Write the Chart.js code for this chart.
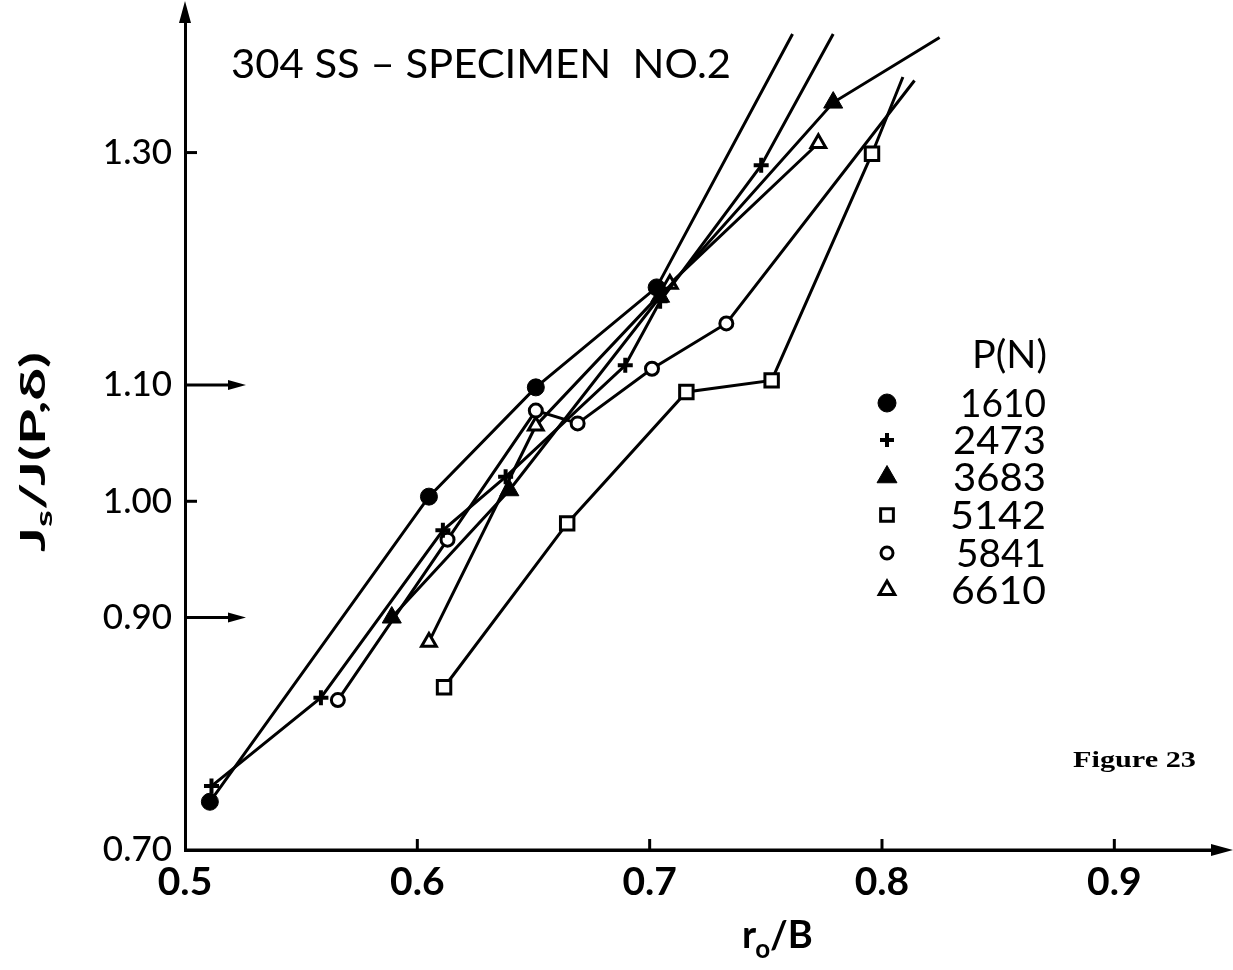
<!DOCTYPE html>
<html><head><meta charset="utf-8">
<script src="https://cdn.jsdelivr.net/npm/chart.js@4.4.1/dist/chart.umd.min.js"></script>
<style>html,body{margin:0;padding:0;background:#fff}#wrap{position:relative;width:1233px;height:970px;background:#fff}</style>
</head><body><div id="wrap"><canvas id="c" width="1233" height="970"></canvas></div>
<script>
// ---- data ----
const xTicks = [0.5, 0.6, 0.7, 0.8, 0.9];
const yTicks = [0.70, 0.90, 1.00, 1.10, 1.30];
const yArrowTicks = [0.90, 1.10];
const loads = ['1610', '2473', '3683', '5142', '5841', '6610'];

const x1610 = [0.5107, 0.605, 0.651, 0.703];
const y1610 = [0.7415, 1.004, 1.098, 1.184];
const ext1610 = [0.7615, 1.402];

const x2473 = [0.5114, 0.5585, 0.611, 0.638, 0.6895, 0.7045, 0.748];
const y2473 = [0.755, 0.831, 0.975, 1.021, 1.117, 1.172, 1.289];
const ext2473 = [0.779, 1.402];

const x3683 = [0.589, 0.6396, 0.7045, 0.779];
const y3683 = [0.900, 1.0095, 1.176, 1.343];
const ext3683 = [0.8248, 1.399];

const x5142 = [0.6115, 0.6645, 0.7158, 0.7525, 0.7957];
const y5142 = [0.840, 0.981, 1.094, 1.104, 1.299];
const ext5142 = [0.809, 1.365];

const x5841 = [0.5658, 0.613, 0.651, 0.669, 0.701, 0.733];
const y5841 = [0.829, 0.967, 1.078, 1.067, 1.114, 1.153];
const ext5841 = [0.814, 1.362];

const x6610 = [0.605, 0.651, 0.7087, 0.7726];
const y6610 = [0.879, 1.065, 1.187, 1.308];
const ext6610 = null;

// ---- styles ----
const markerStyles = [
  {pointStyle: 'circle', radius: 8.5, fill: '#000', bw: 1, lr: 9},
  {pointStyle: 'cross', radius: 7.5, fill: '#000', bw: 4, lr: 7},
  {pointStyle: 'triangle', radius: 11, fill: '#000', bw: 1, lr: 11.5},
  {pointStyle: 'rect', radius: 9.5, fill: '#fff', bw: 3, lr: 9},
  {pointStyle: 'circle', radius: 6.5, fill: '#fff', bw: 3, lr: 6},
  {pointStyle: 'triangle', radius: 8.5, fill: '#fff', bw: 3, lr: 9}
];
const legendWidths = [86, 93, 93, 96, 90, 95];

const seriesX = [x1610, x2473, x3683, x5142, x5841, x6610];
const seriesY = [y1610, y2473, y3683, y5142, y5841, y6610];
const seriesExt = [ext1610, ext2473, ext3683, ext5142, ext5841, ext6610];

const datasets = loads.map((name, i) => {
  const xs = seriesX[i], ys = seriesY[i], ext = seriesExt[i];
  const data = xs.map((x, j) => ({x: x, y: ys[j]}));
  if (ext) data.push({x: ext[0], y: ext[1]});
  const m = markerStyles[i];
  const n = xs.length;
  return {
    label: name,
    data: data,
    showLine: true,
    borderColor: '#000',
    borderWidth: 3,
    pointStyle: m.pointStyle,
    pointRadius: ctx => ctx.dataIndex < n ? m.radius : 0,
    pointBackgroundColor: m.fill,
    pointBorderColor: '#000',
    pointBorderWidth: m.bw,
    pointHoverRadius: 0,
    tension: 0,
    clip: false
  };
});

const FONT = 'Lato, "DejaVu Sans", sans-serif';

function fitText(ctx, text, x, y, targetW, align) {
  const w = ctx.measureText(text).width;
  const s = targetW / w;
  ctx.save();
  ctx.translate(x, y);
  ctx.scale(s, 1);
  ctx.textAlign = 'left';
  let ox = 0;
  if (align === 'center') ox = -w / 2;
  if (align === 'right') ox = -w;
  ctx.fillText(text, ox, 0);
  ctx.restore();
}

function arrowHead(ctx, tx, ty, dx, dy, len, half) {
  const bx = tx - dx * len, by = ty - dy * len;
  const px = -dy, py = dx;
  ctx.beginPath();
  ctx.moveTo(tx, ty);
  ctx.lineTo(bx + px * half, by + py * half);
  ctx.lineTo(bx - px * half, by - py * half);
  ctx.closePath();
  ctx.fill();
}

const extras = {
  id: 'extras',
  afterDraw(chart) {
    const ctx = chart.ctx;
    const xs = chart.scales.x, ys = chart.scales.y;
    const L = chart.chartArea.left, B = chart.chartArea.bottom;
    ctx.save();
    ctx.fillStyle = '#000';
    ctx.strokeStyle = '#000';
    ctx.lineWidth = 3;
    // axis arrows
    ctx.beginPath(); ctx.moveTo(L, chart.chartArea.top); ctx.lineTo(L, 14); ctx.stroke();
    arrowHead(ctx, L, 1, 0, -1, 22, 6);
    ctx.beginPath(); ctx.moveTo(L, B); ctx.lineTo(1222, B); ctx.stroke();
    arrowHead(ctx, 1233, B, 1, 0, 22, 6);
    // inside ticks on y
    yTicks.forEach(v => {
      if (v === yTicks[0]) return;
      const py = ys.getPixelForValue(v);
      ctx.beginPath();
      if (yArrowTicks.includes(v)) {
        ctx.moveTo(L, py); ctx.lineTo(236, py); ctx.stroke();
        arrowHead(ctx, 246, py, 1, 0, 18, 5);
      } else {
        ctx.moveTo(L, py); ctx.lineTo(L + 12, py); ctx.stroke();
      }
    });
    // inside ticks on x
    xTicks.forEach(v => {
      if (v === xTicks[0]) return;
      const px = xs.getPixelForValue(v);
      ctx.beginPath(); ctx.moveTo(px, B); ctx.lineTo(px, B - 11); ctx.stroke();
    });
    // title
    ctx.font = '41px ' + FONT;
    ctx.textBaseline = 'alphabetic';
    fitText(ctx, '304 SS \u2013 SPECIMEN  NO.2', 231, 78, 500, 'left');
    // x-axis title r0/B
    ctx.font = 'bold 38px ' + FONT;
    const xt = 742, xb = 948;
    ctx.textAlign = 'left';
    ctx.fillText('r', xt, xb);
    let w = ctx.measureText('r').width;
    ctx.font = 'bold 26px ' + FONT;
    ctx.fillText('o', xt + w - 1, xb + 10);
    const w2 = ctx.measureText('o').width;
    ctx.font = 'bold 38px ' + FONT;
    ctx.fillText('/B', xt + w + w2 - 1, xb);
    // y-axis title Js/J(P,δ)
    ctx.save();
    ctx.translate(45, 452);
    ctx.rotate(-Math.PI / 2);
    ctx.font = 'bold 35px ' + FONT;
    const p1 = 'J', p3 = '/J(P,\u03b4)';
    const wJ = ctx.measureText(p1).width;
    const w3 = ctx.measureText(p3).width;
    ctx.font = 'bold 23px ' + FONT;
    const wS = ctx.measureText('s').width;
    const total = wJ + wS + w3;
    const sc = 200 / total;
    ctx.scale(sc, 1);
    let sx = -total / 2;
    ctx.font = 'bold 35px ' + FONT;
    ctx.fillText(p1, sx, 0);
    ctx.font = 'bold 23px ' + FONT;
    ctx.fillText('s', sx + wJ, 7);
    ctx.font = 'bold 35px ' + FONT;
    ctx.fillText(p3, sx + wJ + wS, 0);
    ctx.restore();
    // legend
    ctx.font = '38px ' + FONT;
    ctx.textAlign = 'left';
    fitText(ctx, 'P(N)', 1047, 368, 75, 'right');
    const rows = [403, 440, 477, 515, 553, 590];
    loads.forEach((name, i) => {
      const m = markerStyles[i];
      ctx.fillStyle = m.fill;
      ctx.strokeStyle = '#000';
      ctx.lineWidth = m.bw;
      Chart.helpers.drawPoint(ctx, {pointStyle: m.pointStyle, radius: m.lr, rotation: 0, borderWidth: m.bw}, 887, rows[i]);
      ctx.fillStyle = '#000';
      ctx.font = '38px ' + FONT;
      fitText(ctx, name, 1046, rows[i] + 13.5, legendWidths[i], 'right');
    });
    // Figure 23
    ctx.font = 'bold 24px "Liberation Serif", "DejaVu Serif", serif';
    fitText(ctx, 'Figure 23', 1073, 767, 123, 'left');
    ctx.restore();
  }
};

function noPad(s) { s.paddingTop = 0; s.paddingBottom = 0; s.paddingLeft = 0; s.paddingRight = 0; }

new Chart(document.getElementById('c'), {
  type: 'scatter',
  data: {datasets: datasets},
  options: {
    responsive: false,
    animation: false,
    devicePixelRatio: 1,
    events: [],
    layout: {padding: {top: 5, right: 5, left: 0, bottom: 0}},
    plugins: {legend: {display: false}, tooltip: {enabled: false}, title: {display: false}},
    scales: {
      x: {
        type: 'linear', min: 0.5, max: 0.9457,
        afterBuildTicks: s => { s.ticks = xTicks.map(v => ({value: v})); },
        afterFit: s => { s.height = 120; noPad(s); },
        grid: {display: false, drawTicks: false},
        border: {display: true, color: '#000', width: 3},
        ticks: {padding: 9, color: '#000', autoSkip: false, maxRotation: 0,
          font: {family: FONT, size: 39, weight: 'bold'},
          callback: v => Number(v).toFixed(1)}
      },
      y: {
        type: 'linear', min: 0.7, max: 1.4205,
        afterBuildTicks: s => { s.ticks = yTicks.map(v => ({value: v})); },
        afterFit: s => { s.width = 185; noPad(s); },
        grid: {display: false, drawTicks: false},
        border: {display: true, color: '#000', width: 3},
        ticks: {padding: 13, color: '#000', autoSkip: false,
          font: {family: FONT, size: 35, weight: '500'},
          callback: v => Number(v).toFixed(2)}
      }
    }
  },
  plugins: [extras]
});
</script></body></html>
